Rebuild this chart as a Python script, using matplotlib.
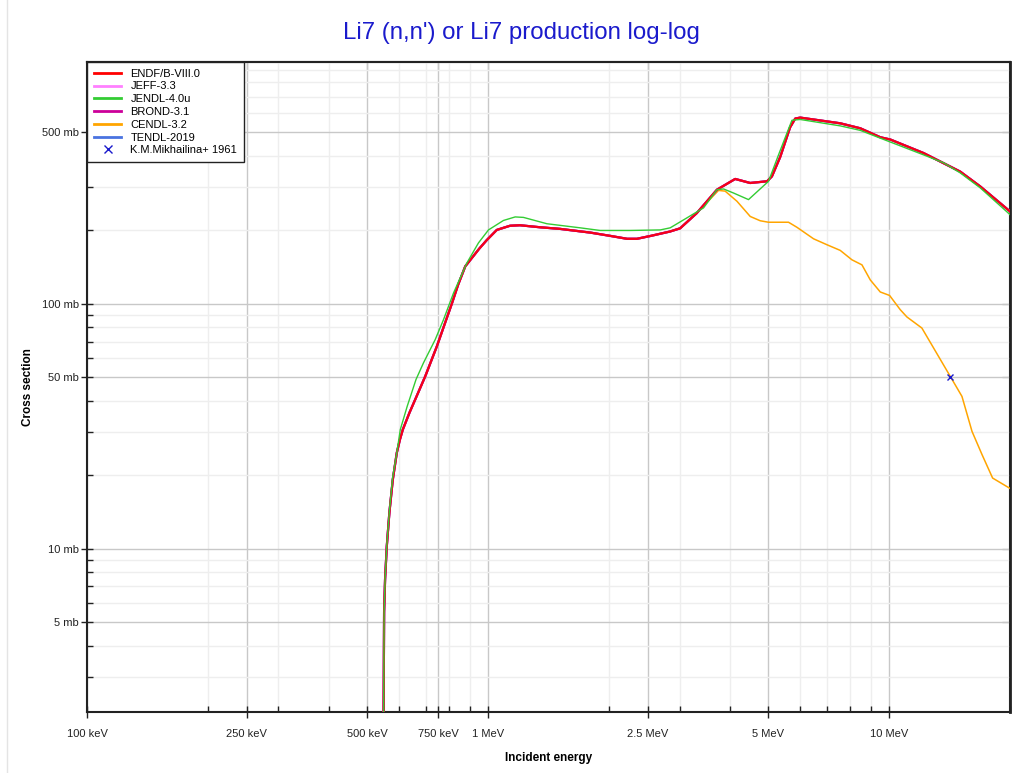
import matplotlib
matplotlib.use("Agg")
import matplotlib.pyplot as plt
from matplotlib.ticker import FixedLocator, NullFormatter
from matplotlib.lines import Line2D

plt.rcParams['font.family'] = ['Liberation Sans', 'DejaVu Sans']

# ENDF/B-VIII.0 (JEFF, BROND, TENDL lie under it)
e_endf = [0.5465, 0.5504, 0.5535, 0.5589, 0.5673, 0.5785, 0.592, 0.6025, 0.6128, 0.6364,
          0.658, 0.697, 0.745, 0.812, 0.842, 0.877, 0.912, 0.950, 0.993, 1.051, 1.134,
          1.20, 1.35, 1.51, 1.80, 2.02, 2.22, 2.35, 2.54, 2.84, 3.01, 3.31, 3.72,
          4.13, 4.50, 4.96, 5.10, 5.35, 5.66, 5.83, 6.00, 7.55, 8.47, 9.50, 10.06,
          12.18, 15.03, 16.86, 20.0]
s_endf = [0.5, 5.5, 7.5, 10.2, 14.0, 19.1, 24.6, 27.8, 30.6, 35.8,
          40.6, 50.5, 66.9, 100.0, 119.6, 142.0, 154.0, 167.6, 182.0, 200.0, 208.0,
          209.0, 205.0, 202.0, 195.0, 189.0, 184.0, 184.0, 189.0, 197.0, 203.0, 234.0, 292.0,
          323.0, 311.0, 316.0, 331.0, 398.0, 525.0, 570.0, 575.0, 545.0, 520.0, 478.0, 468.0,
          412.0, 346.0, 301.0, 238.0]

# JENDL-4.0u
e_jendl = [0.5465, 0.5504, 0.5535, 0.5589, 0.5673, 0.578, 0.592, 0.604, 0.6285, 0.661,
           0.690, 0.738, 0.774, 0.820, 0.885, 0.946, 1.002, 1.092, 1.168, 1.225,
           1.401, 1.696, 1.902, 2.261, 2.686, 2.844, 3.130, 3.443, 3.719, 3.863, 4.090,
           4.458, 5.001, 5.296, 5.558, 5.720, 6.00, 7.55, 8.47, 9.50, 12.18, 13.66,
           15.03, 16.86, 20.0]
s_jendl = [0.5, 5.5, 7.5, 10.3, 14.2, 19.5, 24.6, 30.6, 38.1, 49.0,
           57.3, 71.3, 86.0, 110.6, 146.5, 177.0, 200.0, 218.6, 226.0, 225.0,
           212.0, 204.0, 199.0, 199.0, 200.0, 204.0, 224.0, 246.0, 292.0, 294.0, 283.0,
           266.0, 316.0, 405.0, 497.0, 561.0, 565.0, 532.0, 510.0, 474.0, 405.0, 376.0,
           342.0, 297.0, 231.0]

# CENDL-3.2 (same as ENDF below 3.3 MeV)
e_cendl = [0.5465, 0.5504, 0.5535, 0.5589, 0.5673, 0.5785, 0.592, 0.6025, 0.6128, 0.6364,
           0.658, 0.697, 0.745, 0.812, 0.842, 0.877, 0.912, 0.950, 0.993, 1.051, 1.134,
           1.20, 1.35, 1.51, 1.80, 2.02, 2.22, 2.35, 2.54, 2.84, 3.01, 3.31, 3.753,
           3.899, 4.171, 4.502, 4.768, 5.00, 5.609, 5.887, 6.476, 6.993, 7.547, 8.072,
           8.55, 8.968, 9.497, 10.02, 10.65, 11.07, 12.06, 14.19, 15.18, 16.08, 17.03,
           18.10, 20.0]
s_cendl = [0.5, 5.5, 7.5, 10.2, 14.0, 19.1, 24.6, 27.8, 30.6, 35.8,
           40.6, 50.5, 66.9, 100.0, 119.6, 142.0, 154.0, 167.6, 182.0, 200.0, 208.0,
           209.0, 205.0, 202.0, 195.0, 189.0, 184.0, 184.0, 189.0, 197.0, 203.0, 234.0, 290.0,
           288.0, 262.0, 227.0, 218.0, 215.0, 215.0, 205.0, 184.0, 174.0, 165.0, 151.0,
           144.0, 125.0, 111.6, 108.0, 94.5, 88.2, 79.5, 50.5, 41.8, 30.1, 24.2,
           19.4, 17.6]

# K.M.Mikhailina+ 1961
e_exp = [14.2]
s_exp = [50.0]

x_ticks = [0.1, 0.25, 0.5, 0.75, 1.0, 2.5, 5.0, 10.0]
x_labels = ['100 keV', '250 keV', '500 keV', '750 keV', '1 MeV', '2.5 MeV', '5 MeV', '10 MeV']
x_minor = [0.2, 0.3, 0.4, 0.6, 0.7, 0.8, 0.9, 2, 3, 4, 6, 7, 8, 9, 20]
y_ticks = [5, 10, 50, 100, 500]
y_labels = ['5 mb', '10 mb', '50 mb', '100 mb', '500 mb']
y_minor = [3, 4, 6, 7, 8, 9, 20, 30, 40, 60, 70, 80, 90, 200, 300, 400, 600, 700, 800, 900]

fig = plt.figure(figsize=(10.2, 7.73), dpi=100)
ax = fig.add_axes([87 / 1020, 1 - 712 / 773, 923 / 1020, 650 / 773])

ax.set_xscale('log')
ax.set_yscale('log')

# lines hidden below ENDF
ax.plot(e_cendl, s_cendl, color='#ffa500', lw=1.1, zorder=3)
ax.plot(e_endf, s_endf, color='#ff80ff', lw=1.6, zorder=3)
ax.plot(e_endf, s_endf, color='#4a73e0', lw=1.6, zorder=3)
ax.plot(e_endf, s_endf, color='#cc0099', lw=1.6, zorder=4)
ax.plot(e_endf, s_endf, color='#ff0000', lw=1.6, alpha=0.85, zorder=5)
ax.plot(e_jendl, s_jendl, color='#33cc33', lw=1.0, zorder=6)
ax.plot(e_exp, s_exp, ls='none', marker='x', ms=5, mew=1.0, color='#1a1acc', zorder=7)

ax.set_xlim(0.1, 20.0)
ax.set_ylim(2.15, 970)

ax.xaxis.set_major_locator(FixedLocator(x_ticks))
ax.set_xticklabels(x_labels)
ax.xaxis.set_minor_locator(FixedLocator(x_minor))
ax.xaxis.set_minor_formatter(NullFormatter())

ax.yaxis.set_major_locator(FixedLocator(y_ticks))
ax.set_yticklabels(y_labels)
ax.yaxis.set_minor_locator(FixedLocator(y_minor))
ax.yaxis.set_minor_formatter(NullFormatter())

ax.grid(which='major', color='#c8c8c8', lw=1.0, zorder=0)
ax.grid(which='minor', color='#eeeeee', lw=1.0, zorder=0)
ax.set_axisbelow(True)

ax.tick_params(which='major', direction='inout', length=8, width=1.0, color='#222222',
               labelsize=8, labelcolor='#222222', pad=8)
ax.tick_params(which='minor', direction='in', length=4, width=1.0, color='#222222')
ax.tick_params(axis='y', which='major', pad=2)

# top / right: inward ticks only
top = ax.secondary_xaxis('top')
top.xaxis.set_major_locator(FixedLocator(x_ticks))
top.xaxis.set_minor_locator(FixedLocator(x_minor))
top.tick_params(which='both', direction='in', color='#222222', labeltop=False)
top.tick_params(which='major', length=6)
top.tick_params(which='minor', length=4)
right = ax.secondary_yaxis('right')
right.yaxis.set_major_locator(FixedLocator(y_ticks))
right.yaxis.set_minor_locator(FixedLocator(y_minor))
right.tick_params(which='both', direction='in', color='#222222', labelright=False)
right.tick_params(which='major', length=6)
right.tick_params(which='minor', length=4)
for a in (top, right):
    for sp in a.spines.values():
        sp.set_color('#222222')
        sp.set_linewidth(1.5)

for sp in ax.spines.values():
    sp.set_color('#222222')
    sp.set_linewidth(1.5)
ax.spines['right'].set_linewidth(2.0)

ax.set_xlabel('Incident energy', fontsize=8.5, fontweight='bold', labelpad=9.5)
ax.set_ylabel('Cross section', fontsize=8.5, fontweight='bold', labelpad=5.5)
fig.text(0.511, 1 - 33 / 773, "Li7 (n,n') or Li7 production log-log", color='#1a1acc',
         fontsize=17.3, ha='center', va='center')

handles = [Line2D([], [], color='#ff0000', lw=2),
           Line2D([], [], color='#ff80ff', lw=2),
           Line2D([], [], color='#33cc33', lw=2),
           Line2D([], [], color='#cc0099', lw=2),
           Line2D([], [], color='#ffa500', lw=2),
           Line2D([], [], color='#4a73e0', lw=2),
           Line2D([], [], ls='none', marker='x', ms=6, mew=1.0, color='#1a1acc')]
names = ['ENDF/B-VIII.0', 'JEFF-3.3', 'JENDL-4.0u', 'BROND-3.1', 'CENDL-3.2',
         'TENDL-2019', 'K.M.Mikhailina+ 1961']
leg = ax.legend(handles, names, loc='upper left', fontsize=8, frameon=True,
                fancybox=False, edgecolor='#222222', framealpha=1.0,
                borderaxespad=0.0, handlelength=2.5, handletextpad=0.8,
                labelspacing=0.25, borderpad=0.6)
leg.get_frame().set_linewidth(1.0)
leg.set_zorder(10)

fig.add_artist(Line2D([7 / 1020, 7 / 1020], [0, 1], color='#e4e4e4', lw=1.0))

fig.savefig('out.png', dpi=100)
